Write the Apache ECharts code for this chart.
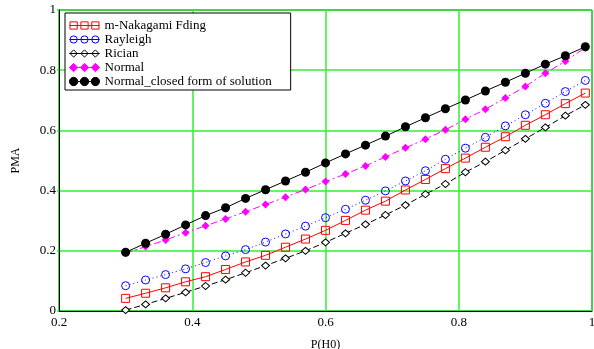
<!DOCTYPE html>
<html>
<head>
<meta charset="utf-8">
<script src="https://cdn.jsdelivr.net/npm/echarts@6/dist/echarts.min.js"></script>
<style>
  html, body { margin: 0; padding: 0; background: #fff; }
  #chart { width: 594px; height: 349px; }
</style>
</head>
<body>
<div id="chart"></div>
<script>
// P(H0) values
const pH0 = [0.30, 0.33, 0.36, 0.39, 0.42, 0.45, 0.48, 0.51, 0.54, 0.57, 0.60, 0.63,
             0.66, 0.69, 0.72, 0.75, 0.78, 0.81, 0.84, 0.87, 0.90, 0.93, 0.96, 0.99];

const nakagami = [0.042, 0.059, 0.077, 0.097, 0.114, 0.138, 0.163, 0.185, 0.212, 0.239, 0.268, 0.301,
                  0.335, 0.365, 0.402, 0.437, 0.473, 0.508, 0.544, 0.579, 0.617, 0.652, 0.689, 0.724];
const rayleigh = [0.084, 0.103, 0.121, 0.140, 0.161, 0.183, 0.204, 0.229, 0.256, 0.282, 0.310, 0.338,
                  0.368, 0.399, 0.432, 0.466, 0.504, 0.541, 0.577, 0.615, 0.652, 0.690, 0.729, 0.766];
const rician = [0.003, 0.022, 0.042, 0.062, 0.083, 0.104, 0.127, 0.151, 0.175, 0.200, 0.228, 0.258,
                0.288, 0.319, 0.352, 0.388, 0.422, 0.461, 0.496, 0.534, 0.572, 0.610, 0.649, 0.685];
const normal = [0.192, 0.214, 0.236, 0.260, 0.283, 0.306, 0.330, 0.354, 0.378, 0.404, 0.430, 0.455,
                0.482, 0.512, 0.542, 0.571, 0.602, 0.637, 0.670, 0.708, 0.746, 0.790, 0.830, 0.875];
const closedForm = [0.195, 0.225, 0.255, 0.286, 0.317, 0.343, 0.374, 0.403, 0.432, 0.461, 0.492, 0.522,
                    0.551, 0.581, 0.612, 0.642, 0.672, 0.701, 0.731, 0.760, 0.790, 0.820, 0.848, 0.878];

const seriesNames = ['m-Nakagami Fding', 'Rayleigh', 'Rician', 'Normal', 'Normal_closed form of solution'];

const pairs = (ys) => pH0.map((x, i) => [x, ys[i]]);
const serif = '"Liberation Serif", "DejaVu Serif", serif';
const gridGreen = '#33ee33';

// legend icon: three markers joined by a line, like the original plot's key
function tripleIcon(shape, r) {
  const cx = [4.5, 15, 25.5];
  let d = 'M0.5,5H29.5 ';
  cx.forEach(c => {
    if (shape === 'rect') {
      d += `M${c - r},${5 - r}h${2 * r}v${2 * r}h${-2 * r}z `;
    } else if (shape === 'circle') {
      d += `M${c + r},5A${r},${r} 0 1 1 ${c - r},5A${r},${r} 0 1 1 ${c + r},5z `;
    } else {
      d += `M${c},${5 - r}L${c + r},5L${c},${5 + r}L${c - r},5z `;
    }
  });
  return 'path://' + d;
}

const chart = echarts.init(document.getElementById('chart'));

const option = {
  animation: false,
  textStyle: { fontFamily: serif },
  grid: {
    left: 59, right: 2, top: 10, bottom: 38,
    outerBoundsMode: 'none',
    show: true, borderColor: '#000', borderWidth: 1
  },
  legend: {
    data: [
      { name: seriesNames[0], icon: tripleIcon('rect', 3.5) },
      { name: seriesNames[1], icon: tripleIcon('circle', 3.5) },
      { name: seriesNames[2], icon: tripleIcon('diamond', 3.5) },
      { name: seriesNames[3], icon: tripleIcon('diamond', 4) },
      { name: seriesNames[4], icon: tripleIcon('circle', 4) }
    ],
    orient: 'vertical',
    left: 65, top: 13,
    backgroundColor: '#fff',
    borderColor: '#000', borderWidth: 1,
    padding: [6, 19, 2, 2],
    itemWidth: 30, itemHeight: 10, itemGap: 1,
    itemStyle: { borderWidth: 1 },
    textStyle: { fontFamily: serif, fontSize: 13, lineHeight: 12, color: '#000' }
  },
  xAxis: {
    type: 'value',
    min: 0.2, max: 1, interval: 0.2,
    name: 'P(H0)', nameLocation: 'middle', nameGap: 28,
    nameTextStyle: { fontFamily: serif, fontSize: 12, color: '#000' },
    axisLine: { lineStyle: { color: '#000', width: 1 } },
    axisTick: { show: false },
    axisLabel: { fontFamily: serif, fontSize: 13, color: '#000', margin: 5,
                 formatter: v => String(+v.toFixed(1)) },
    splitLine: { lineStyle: { color: gridGreen, width: 1.5 } }
  },
  yAxis: {
    type: 'value',
    min: 0, max: 1, interval: 0.2,
    name: 'PMA', nameLocation: 'middle', nameGap: 37,
    nameTextStyle: { fontFamily: serif, fontSize: 12, color: '#000' },
    axisLine: { show: true, lineStyle: { color: '#000', width: 1 } },
    axisTick: { show: true, length: 2, lineStyle: { color: gridGreen, width: 1.5 } },
    axisLabel: { fontFamily: serif, fontSize: 13, color: '#000', margin: 3,
                 formatter: v => String(+v.toFixed(1)) },
    splitLine: { lineStyle: { color: gridGreen, width: 1.5 } }
  },
  series: [
    {
      name: seriesNames[0], type: 'line', data: pairs(nakagami),
      symbol: 'rect', symbolSize: 8,
      lineStyle: { color: '#ff0000', width: 1, type: 'solid' },
      itemStyle: { color: 'none', borderColor: '#ff0000', borderWidth: 1 },
      z: 3
    },
    {
      name: seriesNames[1], type: 'line', data: pairs(rayleigh),
      symbol: 'circle', symbolSize: 8,
      lineStyle: { color: '#0000ff', width: 1, type: [1, 3] },
      itemStyle: { color: 'none', borderColor: '#0000ff', borderWidth: 1 },
      z: 3
    },
    {
      name: seriesNames[2], type: 'line', data: pairs(rician),
      symbol: 'diamond', symbolSize: [8, 7],
      lineStyle: { color: '#000', width: 1, type: [6, 3] },
      itemStyle: { color: '#fff', borderColor: '#000', borderWidth: 1 },
      z: 3
    },
    {
      name: seriesNames[3], type: 'line', data: pairs(normal),
      symbol: 'diamond', symbolSize: [8, 8],
      lineStyle: { color: '#ff00ff', width: 1, type: [7, 3, 2, 3] },
      itemStyle: { color: '#ff00ff', borderColor: '#ff00ff', borderWidth: 0 },
      z: 3
    },
    {
      name: seriesNames[4], type: 'line', data: pairs(closedForm),
      symbol: 'circle', symbolSize: 9,
      lineStyle: { color: '#000', width: 1, type: 'solid' },
      itemStyle: { color: '#000', borderColor: '#000', borderWidth: 0 },
      z: 4
    }
  ]
};

chart.setOption(option);
</script>
</body>
</html>
